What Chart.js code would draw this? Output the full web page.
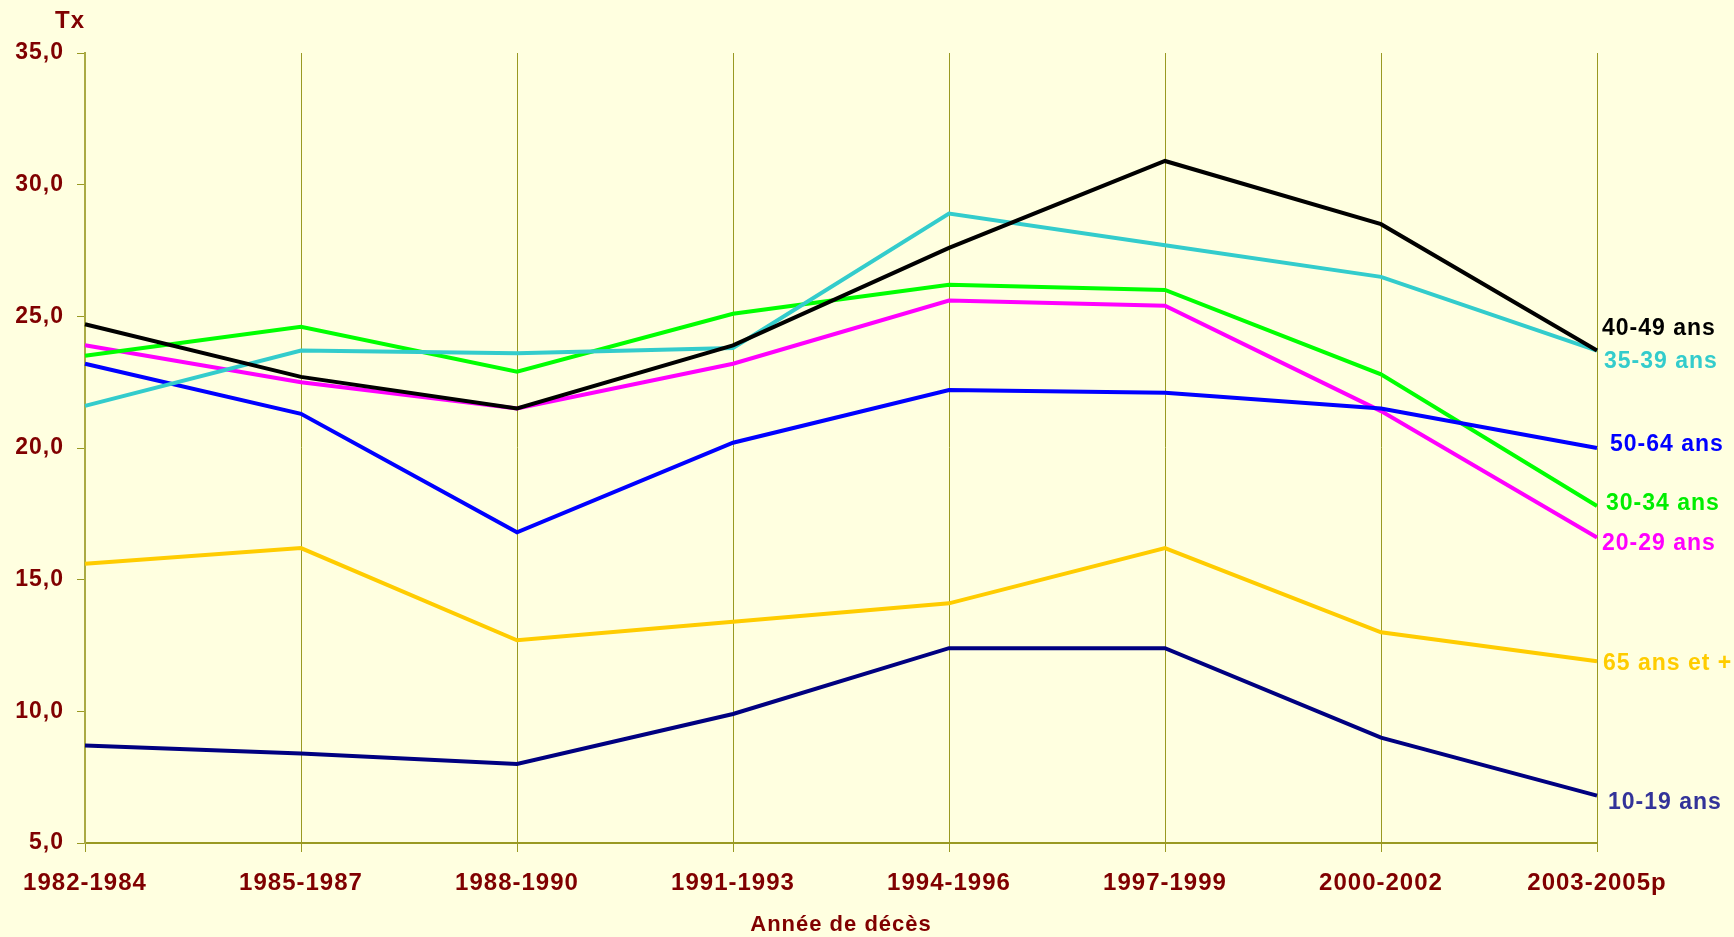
<!DOCTYPE html>
<html>
<head>
<meta charset="utf-8">
<script src="https://cdn.jsdelivr.net/npm/chart.js@4/dist/chart.umd.min.js"></script>
<style>
html,body{margin:0;padding:0;background:#FFFFE0;}
#wrap{width:1734px;height:937px;position:relative;}
</style>
</head>
<body>
<div id="wrap"><canvas id="c"></canvas></div>
<script>
const categories = ["1982-1984","1985-1987","1988-1990","1991-1993","1994-1996","1997-1999","2000-2002","2003-2005p"];
const yTicks = [5, 10, 15, 20, 25, 30, 35];
const seriesNames = ["40-49 ans","35-39 ans","50-64 ans","30-34 ans","20-29 ans","65 ans et +","10-19 ans"];
const s40_49 = [24.7, 22.7, 21.5, 23.9, 27.6, 30.9, 28.5, 23.7];
const s35_39 = [21.6, 23.7, 23.6, 23.8, 28.9, 27.7, 26.5, 23.7];
const s50_64 = [23.2, 21.3, 16.8, 20.2, 22.2, 22.1, 21.5, 20.0];
const s30_34 = [23.5, 24.6, 22.9, 25.1, 26.2, 26.0, 22.8, 17.8];
const s20_29 = [23.9, 22.5, 21.5, 23.2, 25.6, 25.4, 21.4, 16.6];
const s65plus = [15.6, 16.2, 12.7, 13.4, 14.1, 16.2, 13.0, 11.9];
const s10_19 = [8.7, 8.4, 8.0, 9.9, 12.4, 12.4, 9.0, 6.8];
const yTitle = "Tx";
const xTitle = "Année de décès";

// styles
const lineColors = ["#000000","#33CCCC","#0000FF","#00FF00","#FF00FF","#FFCC00","#000080"];
const labelColors = ["#000000","#33CCCC","#0000FF","#00EE00","#FF00FF","#FFCC00","#333399"];
const labelDx = [5, 7, 13, 9, 5, 6, 11];
const labelDy = [-22, 11, -3, -2, 6, 2, 7];
const allSeries = [s40_49, s35_39, s50_64, s30_34, s20_29, s65plus, s10_19];

const TEXT = "#800000";
const GRID = "#999922";
const FONT = "'Liberation Sans', Arial, sans-serif";

const datasets = allSeries.map((d, i) => ({
  label: seriesNames[i],
  data: d,
  borderColor: lineColors[i],
  backgroundColor: lineColors[i],
  borderWidth: 4,
  pointRadius: 0,
  tension: 0,
  fill: false
}));

const extras = {
  id: 'extras',
  beforeDraw(chart) {
    const ctx = chart.ctx;
    ctx.save();
    ctx.fillStyle = '#FFFFE0';
    ctx.fillRect(0, 0, chart.width, chart.height);
    ctx.restore();
    ctx.letterSpacing = '1px';
  },
  afterDraw(chart) {
    const ctx = chart.ctx;
    const xs = chart.scales.x, ys = chart.scales.y;
    const ca = chart.chartArea;
    ctx.save();
    ctx.letterSpacing = '1px';
    ctx.font = "bold 23px " + FONT;
    ctx.textBaseline = 'middle';
    ctx.textAlign = 'left';
    const last = categories.length - 1;
    allSeries.forEach((d, i) => {
      const x = xs.getPixelForValue(last) + labelDx[i];
      const y = ys.getPixelForValue(d[last]) + labelDy[i];
      ctx.fillStyle = labelColors[i];
      ctx.fillText(seriesNames[i], x, y);
    });
    ctx.fillStyle = TEXT;
    ctx.textAlign = 'right';
    ctx.font = "bold 24px " + FONT;
    ctx.fillText(yTitle, ca.left, 21);
    ctx.textAlign = 'center';
    ctx.font = "bold 22px " + FONT;
    ctx.fillText(xTitle, (ca.left + ca.right) / 2, 925);
    ctx.restore();
  }
};

new Chart(document.getElementById('c'), {
  type: 'line',
  data: { labels: categories, datasets: datasets },
  options: {
    responsive: true,
    maintainAspectRatio: false,
    animation: false,
    layout: { padding: { top: 53, right: 137, left: 0, bottom: 0 } },
    plugins: { legend: { display: false }, tooltip: { enabled: false } },
    scales: {
      x: {
        offset: false,
        grid: { display: true, drawOnChartArea: true, drawTicks: true, tickLength: 9, color: GRID, tickColor: GRID, lineWidth: 1 },
        border: { display: true, color: GRID, width: 2 },
        ticks: { color: TEXT, font: { family: FONT, size: 24, weight: 'bold' }, padding: 17, maxRotation: 0, autoSkip: false },
        afterFit(scale) { scale.height = 94; }
      },
      y: {
        min: yTicks[0],
        max: yTicks[yTicks.length - 1],
        afterBuildTicks(scale) { scale.ticks = yTicks.map(v => ({ value: v })); },
        grid: { display: true, drawOnChartArea: false, drawTicks: true, tickLength: 8, color: GRID, tickColor: GRID },
        border: { display: true, color: '#AAAA44', width: 2 },
        ticks: {
          color: TEXT,
          font: { family: FONT, size: 23, weight: 'bold' },
          padding: 13,
          callback: v => Number(v).toFixed(1).replace('.', ',')
        },
        afterFit(scale) { scale.width = 85; }
      }
    }
  },
  plugins: [extras]
});
</script>
</body>
</html>
